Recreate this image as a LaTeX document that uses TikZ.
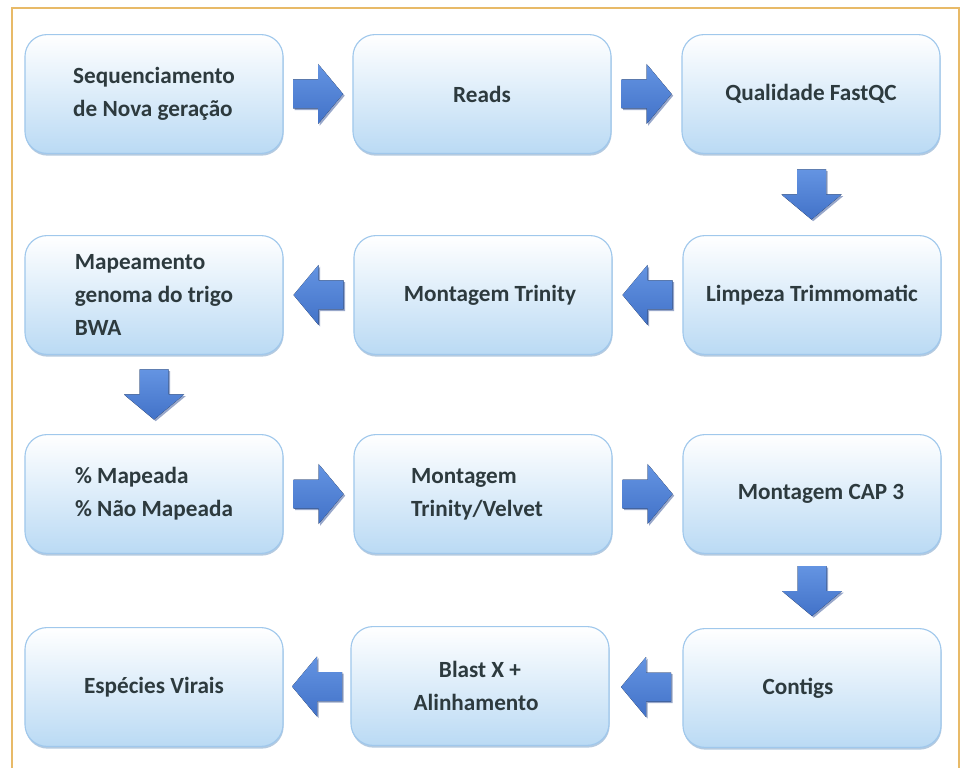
\documentclass[tikz,border=0pt]{standalone}
\usepackage{fontspec}
\setmainfont{Carlito}
\usetikzlibrary{shadows,calc}

\definecolor{framecol}{RGB}{232,186,104}
\definecolor{boxblue}{RGB}{186,218,244}
\definecolor{boxline}{RGB}{160,200,236}
\definecolor{boxshade}{RGB}{120,160,200}
\definecolor{arrowtop}{RGB}{100,148,226}
\definecolor{arrowbot}{RGB}{66,114,200}
\definecolor{arrowshade}{RGB}{50,80,150}
\definecolor{txtcol}{RGB}{45,58,62}

\tikzset{
  stepbox/.style={rectangle, rounded corners=0.55cm,
    minimum width=6.45cm, minimum height=2.97cm,
    top color=white, middle color=boxblue!35, bottom color=boxblue,
    draw=boxline, line width=0.8pt,
    drop shadow={shadow xshift=0.4pt, shadow yshift=-1.6pt,
      fill=boxshade, opacity=0.55},
    font=\fontsize{16.5}{23.5}\selectfont\bfseries, text=txtcol,
    align=left, inner sep=0pt},
  blockarrow/.style={top color=arrowtop, bottom color=arrowbot, draw=none,
    drop shadow={shadow xshift=1.2pt, shadow yshift=-1.2pt,
      fill=arrowshade, opacity=0.5}},
}

\begin{document}
\begin{tikzpicture}[x=0.025cm, y=-0.025cm]
      \useasboundingbox (0,0) rectangle (963,768);
      \fill[white] (0,0) rectangle (963,768);
      \draw[framecol, line width=1.3pt] (12,8) rectangle (959,790);

      %%%%%%%%%%%%%%%%%%%%%%%%%%%%%%%%%%%%%%%%%%%%%%%%%%%%%%%%%%%%%%%%%%%%%%%%%%%
      %%%%  row 1
      \node[stepbox] (seq)    at (154,94)  {Sequenciamento\\de Nova geração};
      \node[stepbox] (reads)  at (482,94)  {Reads};
      \node[stepbox] (fastqc) at (811,94)  {Qualidade FastQC};

      %%%%  row 2
      \node[stepbox] (bwa)     at (154,295) {Mapeamento\\genoma do trigo\\BWA};
      \node[stepbox] (trinity) at (483,295) {\hspace*{0.35cm}Montagem Trinity};
      \node[stepbox] (trimmo)  at (812,295) {Limpeza Trimmomatic};

      %%%%  row 3
      \node[stepbox] (mapeada) at (154,494) {\% Mapeada\\\% Não Mapeada};
      \node[stepbox] (velvet)  at (483,494) {Montagem\\Trinity/Velvet\hspace*{0.3cm}};
      \node[stepbox] (cap)     at (812,494) {\hspace*{0.45cm}Montagem CAP 3};

      %%%%  row 4
      \node[stepbox] (virais)  at (154,687) {Espécies Virais};
      \node[stepbox, align=center] (blast) at (480,686) {Blast X +\\Alinhamento\hspace*{0.2cm}};
      \node[stepbox] (contigs) at (812,688) {Contigs\hspace*{0.7cm}};

      %%%%%%%%%%%%%%%%%%%%%%%%%%%%%%%%%%%%%%%%%%%%%%%%%%%%%%%%%%%%%%%%%%%%%%%%%%%
      %%%%  block arrows, half way between two boxes
      \foreach \a/\b/\ang in {seq/reads/0, reads/fastqc/0, fastqc/trimmo/-90,
                              trimmo/trinity/180, trinity/bwa/180, bwa/mapeada/-90,
                              mapeada/velvet/0, velvet/cap/0, cap/contigs/-90,
                              contigs/blast/180, blast/virais/180}
      {\coordinate (arr-\a) at ($(\a)!0.5!(\b)$);
       \fill[blockarrow, shift={(arr-\a)}, rotate=\ang]
         (-25,-14.5) -- (0,-14.5) -- (0,-30) -- (25,0)
         -- (0,30) -- (0,14.5) -- (-25,14.5) -- cycle;
      };
    \end{tikzpicture}
\end{document}
